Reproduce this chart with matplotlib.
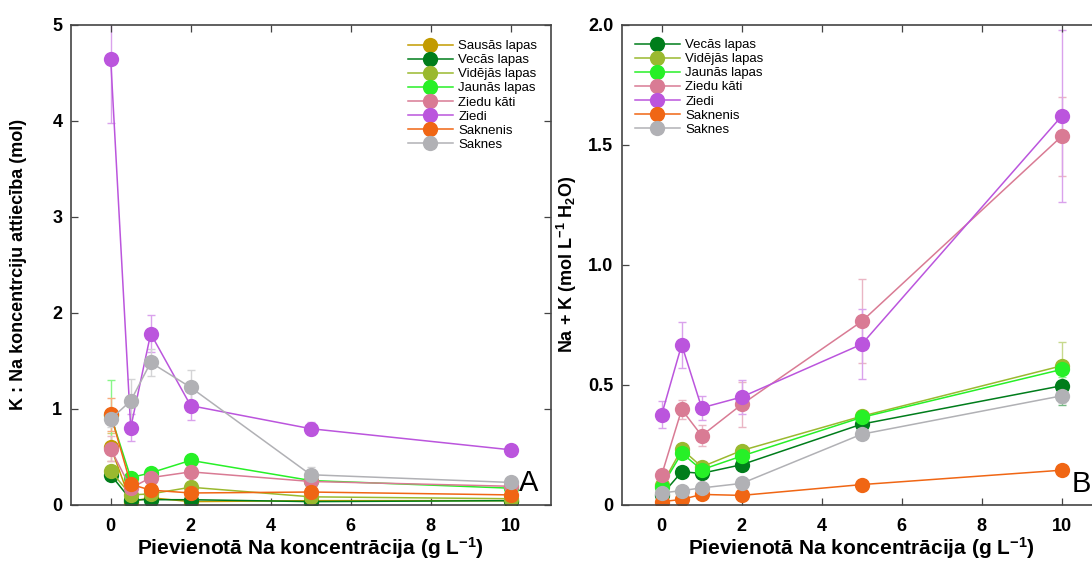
import matplotlib
matplotlib.use("Agg")
import matplotlib.pyplot as plt
import matplotlib.colors as mcolors
import numpy as np

plt.rcParams['font.family'] = ['Liberation Sans', 'DejaVu Sans']
plt.rcParams['mathtext.fontset'] = 'custom'
plt.rcParams['mathtext.rm'] = 'Liberation Sans'
plt.rcParams['mathtext.bf'] = 'Liberation Sans:bold'
plt.rcParams['mathtext.default'] = 'bf'

# ---------------- data ----------------
x_na = [0, 0.5, 1, 2, 5, 10]

labels_a = ['Sausās lapas', 'Vecās lapas', 'Vidējās lapas', 'Jaunās lapas',
            'Ziedu kāti', 'Ziedi', 'Saknenis', 'Saknes']
colors_a = ['#c29b00', '#007d1b', '#9ab92f', '#27f027',
            '#d97b94', '#bb55dd', '#f06614', '#b1b1b5']

# Panel A: K : Na ratio
sausas_a = [0.60, 0.03, 0.07, 0.03, 0.04, 0.04]
vecas_a = [0.31, 0.05, 0.05, 0.05, 0.03, 0.04]
videjas_a = [0.35, 0.10, 0.11, 0.18, 0.08, 0.06]
jaunas_a = [0.93, 0.28, 0.33, 0.46, 0.25, 0.17]
ziedukati_a = [0.58, 0.17, 0.28, 0.34, 0.24, 0.19]
ziedi_a = [4.64, 0.80, 1.78, 1.03, 0.79, 0.57]
saknenis_a = [0.94, 0.21, 0.15, 0.12, 0.13, 0.10]
saknes_a = [0.89, 1.08, 1.48, 1.22, 0.31, 0.23]

sausas_a_err = [0.15, 0.01, 0.01, 0.01, 0.01, 0.01]
vecas_a_err = [0.03, 0.01, 0.01, 0.01, 0.01, 0.01]
videjas_a_err = [0.05, 0.02, 0.02, 0.03, 0.01, 0.01]
jaunas_a_err = [0.37, 0.05, 0.03, 0.07, 0.02, 0.02]
ziedukati_a_err = [0.13, 0.03, 0.03, 0.03, 0.02, 0.02]
ziedi_a_err = [0.66, 0.14, 0.19, 0.15, 0.07, 0.03]
saknenis_a_err = [0.17, 0.03, 0.02, 0.02, 0.02, 0.02]
saknes_a_err = [0.08, 0.23, 0.14, 0.18, 0.08, 0.03]

# Panel B: Na + K
labels_b = ['Vecās lapas', 'Vidējās lapas', 'Jaunās lapas',
            'Ziedu kāti', 'Ziedi', 'Saknenis', 'Saknes']
colors_b = ['#007d1b', '#9ab92f', '#27f027',
            '#d97b94', '#bb55dd', '#f06614', '#b1b1b5']

vecas_b = [0.040, 0.136, 0.130, 0.166, 0.335, 0.495]
videjas_b = [0.080, 0.231, 0.157, 0.225, 0.368, 0.578]
jaunas_b = [0.074, 0.214, 0.145, 0.202, 0.363, 0.563]
ziedukati_b = [0.124, 0.396, 0.287, 0.417, 0.763, 1.535]
ziedi_b = [0.375, 0.666, 0.403, 0.448, 0.668, 1.619]
saknenis_b = [0.012, 0.021, 0.042, 0.038, 0.083, 0.143]
saknes_b = [0.048, 0.058, 0.069, 0.088, 0.293, 0.453]

vecas_b_err = [0.01, 0.02, 0.02, 0.02, 0.02, 0.08]
videjas_b_err = [0.01, 0.02, 0.02, 0.02, 0.02, 0.10]
jaunas_b_err = [0.01, 0.02, 0.02, 0.02, 0.02, 0.03]
ziedukati_b_err = [0.01, 0.04, 0.045, 0.095, 0.175, 0.165]
ziedi_b_err = [0.055, 0.095, 0.05, 0.07, 0.145, 0.36]
saknenis_b_err = [0.005, 0.005, 0.005, 0.005, 0.005, 0.01]
saknes_b_err = [0.01, 0.01, 0.01, 0.01, 0.02, 0.03]

series_a = [sausas_a, vecas_a, videjas_a, jaunas_a, ziedukati_a, ziedi_a, saknenis_a, saknes_a]
errs_a = [sausas_a_err, vecas_a_err, videjas_a_err, jaunas_a_err, ziedukati_a_err,
          ziedi_a_err, saknenis_a_err, saknes_a_err]
series_b = [vecas_b, videjas_b, jaunas_b, ziedukati_b, ziedi_b, saknenis_b, saknes_b]
errs_b = [vecas_b_err, videjas_b_err, jaunas_b_err, ziedukati_b_err, ziedi_b_err,
          saknenis_b_err, saknes_b_err]

x_ticks = [0, 2, 4, 6, 8, 10]
ya_ticks = [0, 1, 2, 3, 4, 5]
yb_ticks = [0, 0.5, 1.0, 1.5, 2.0]
yb_ticklabels = ['0', '0.5', '1.0', '1.5', '2.0']

xlabel = 'Pievienotā Na koncentrācija (g L$^{-1}$)'
ylabel_a = 'K : Na koncentrciju attiecība (mol)'
ylabel_b = 'Na + K (mol L$^{-1}$ H$_2$O)'


def lighten(c, f=0.45):
    r, g, b = mcolors.to_rgb(c)
    return (r + (1 - r) * f, g + (1 - g) * f, b + (1 - b) * f)


W, H = 1092, 565
fig = plt.figure(figsize=(W / 100, H / 100), dpi=100)

axA = fig.add_axes([70.7 / W, 1 - 504.5 / H, 480 / W, 479.8 / H])
axB = fig.add_axes([621.7 / W, 1 - 504.5 / H, 480 / W, 479.8 / H])

spine_col = '#444444'


def style(ax):
    for s in ax.spines.values():
        s.set_color(spine_col)
        s.set_linewidth(1.2)
    ax.tick_params(direction='in', length=5, width=0.9, color=spine_col,
                   top=True, right=True, labelsize=13)
    ax.tick_params(axis='x', pad=10)
    ax.tick_params(axis='y', pad=6)
    for lbl in ax.get_xticklabels() + ax.get_yticklabels():
        lbl.set_fontweight('bold')


def draw(ax, series, errs, labels, colors):
    handles = []
    for y, e, lab, c in zip(series, errs, labels, colors):
        ax.errorbar(x_na, y, yerr=e, fmt='none', ecolor=lighten(c), elinewidth=1.0,
                    capsize=3, capthick=1.0, zorder=1)
        h, = ax.plot(x_na, y, '-o', color=c, lw=1.1, ms=11, mew=0, label=lab, zorder=2)
        handles.append(h)
    return handles


hA = draw(axA, series_a, errs_a, labels_a, colors_a)
hB = draw(axB, series_b, errs_b, labels_b, colors_b)

axA.set_xlim(-1, 11)
axA.set_ylim(0, 5)
axA.set_xticks(x_ticks)
axA.set_yticks(ya_ticks)
axB.set_xlim(-1, 11)
axB.set_ylim(0, 2.0)
axB.set_xticks(x_ticks)
axB.set_yticks(yb_ticks)
axB.set_yticklabels(yb_ticklabels)

style(axA)
style(axB)

for ax in (axA, axB):
    ax.set_xlabel(xlabel, fontsize=15, fontweight='bold', labelpad=0)

axA.set_ylabel(ylabel_a, fontsize=13, fontweight='bold')
axB.set_ylabel(ylabel_b, fontsize=13, fontweight='bold')
axA.yaxis.set_label_coords(-0.092, 0.5)
axB.yaxis.set_label_coords(-0.088, 0.5)

axA.text(10.46, 0.22, 'A', fontsize=21, ha='center', va='center')
axB.text(10.74, 0.086, 'B', fontsize=21, ha='right', va='center')

leg_kw = dict(loc='upper left', frameon=False, fontsize=9.5, handlelength=3.4,
              handletextpad=0.4, labelspacing=0.14, borderpad=0, borderaxespad=0,
              bbox_transform=fig.transFigure)
axA.legend(handles=hA, bbox_to_anchor=(408 / W, 1 - 40 / H), **leg_kw)
axB.legend(handles=hB, bbox_to_anchor=(635 / W, 1 - 39 / H), **leg_kw)

fig.savefig('out.png', dpi=100)
